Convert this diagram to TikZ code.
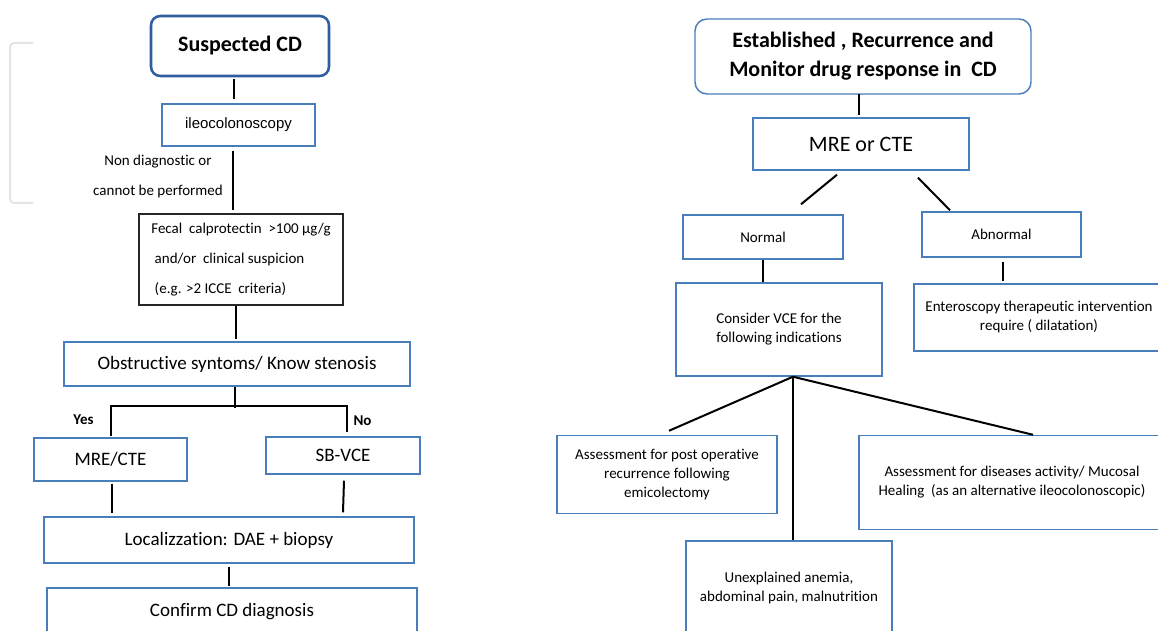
\documentclass[tikz,border=0pt]{standalone}
\usepackage{fontspec}
\setmainfont{Carlito}[Ligatures={NoCommon}]
\newfontfamily\arialf{Liberation Sans}
\usetikzlibrary{calc}
\definecolor{boxblue}{RGB}{74,126,187}
\definecolor{darkblue}{RGB}{46,94,160}
\definecolor{bracketgray}{RGB}{228,228,228}
\tikzset{
  fsm/.style={font=\fontsize{11.25}{14.25}\selectfont},
  fmd/.style={font=\fontsize{14.25}{17}\selectfont},
  flg/.style={font=\fontsize{16.5}{21.75}\selectfont},
  bbox/.style 2 args={draw=boxblue, line width=1.1pt, inner sep=0pt, align=center,
    minimum width=#1*0.75pt, minimum height=#2*0.75pt},
  kbox/.style 2 args={draw=black!85, line width=1.1pt, inner sep=0pt, align=left,
    minimum width=#1*0.75pt, minimum height=#2*0.75pt},
  startbox/.style 2 args={draw=darkblue, line width=1.9pt, rounded corners=7pt, inner sep=0pt,
    align=center, minimum width=#1*0.75pt, minimum height=#2*0.75pt},
  topbox/.style 2 args={draw=boxblue, line width=1.1pt, rounded corners=9pt, inner sep=0pt,
    align=center, minimum width=#1*0.75pt, minimum height=#2*0.75pt},
  lbl/.style={inner sep=0pt, align=center},
  conn/.style={draw=black, line width=1.5pt},
}
\begin{document}
\begin{tikzpicture}[x=0.75pt,y=-0.75pt]
\fill[white] (0,0) rectangle (1158,631);
\useasboundingbox (0,0) rectangle (1158,631);

% light gray bracket at the left edge
\draw[bracketgray, line width=1.5pt, rounded corners=3pt] (33,43) -- (10,43) -- (10,203) -- (33,203);

% ---------------- left flow ----------------
\node[startbox={178}{60}, font=\fontsize{16.5}{21.75}\selectfont\bfseries] (susp) at (240,46) {Suspected CD};
\node[bbox={153}{42}, font=\arialf\fontsize{11.25}{14.25}\selectfont] (ileo) at (238.5,125) {ileocolonoscopy};
\node[lbl, font=\fontsize{11.25}{22.5}\selectfont] (nondiag) at (158,177) {Non diagnostic or\\cannot be performed};
\node[kbox={204}{91}, font=\fontsize{11.25}{22.5}\selectfont] (fecal) at (241,259.5)
  {Fecal\ \ calprotectin\ \ >100 µg/g\\ \ and/or\ \ clinical suspicion\\ \ (e.g. >2 ICCE\ \ criteria)};
\node[bbox={346}{44}, fmd] (obst) at (237,364) {Obstructive syntoms/ Know stenosis};
\node[bbox={153}{43}, fmd] (mre) at (110.5,459.5) {MRE/CTE};
\node[bbox={154}{37}, fmd] (sbvce) at (343,455.5) {SB-VCE};
\node[lbl, font=\fontsize{11.25}{14.25}\selectfont\bfseries] (yes) at (83.5,420) {Yes};
\node[lbl, font=\fontsize{11.25}{14.25}\selectfont\bfseries] (no) at (362.5,421) {No};
\node[bbox={370}{46}, fmd] (local) at (229,540) {Localizzation: DAE + biopsy};
\node[bbox={370}{48}, fmd] (confirm) at (232,612) {Confirm CD diagnosis};

\draw[conn] ($(susp.south)+(-6,2)$) -- ($(ileo.north)+(-4.5,-4)$);
\draw[conn] ($(ileo.south)+(-5.5,4)$) -- ($(fecal.north)+(-8,-3)$);
\draw[conn] ($(fecal.south)+(-5,0)$) -- ($(obst.north)+(-1,-2)$);
\draw[conn] ($(obst.south)+(-2,0)$) -- ($(obst.south)+(-2,21)$);
\draw[conn] ($(mre.north)+(0.5,-1)$) -- ($(mre.north)+(0.5,-31)$) -| ($(sbvce.north)+(4,-4)$);
\draw[conn] ($(mre.south)+(1.5,2)$) -- ($(local.north)+(-117,-3)$);
\draw[conn] ($(sbvce.south)+(1,6)$) -- ($(local.north)+(114,-4)$);
\draw[conn] ($(local.south)+(0,3)$) -- ($(confirm.north)+(-3,-1)$);

% ---------------- right flow ----------------
\node[topbox={336}{75}, font=\fontsize{16.5}{21.75}\selectfont\bfseries] (estab) at (863,56.5)
  {Established , Recurrence and\\Monitor drug response in\ \ CD};
\node[bbox={216}{52}, flg] (mreor) at (861,144) {MRE or CTE};
\node[bbox={160}{44}, fsm] (normal) at (763,237) {Normal};
\node[bbox={159}{45}, fsm] (abnormal) at (1001.5,234.5) {Abnormal};
\node[bbox={206}{93}, fsm] (consider) at (779,329.5) {Consider VCE for the\\following indications};
\node[bbox={250}{67}, fsm] (entero) at (1039,317.5) {Enteroscopy therapeutic intervention\\require ( dilatation)};
\node[bbox={220}{78}, fsm] (asspost) at (667,474.5) {Assessment for post operative\\recurrence following\\emicolectomy};
\node[bbox={306}{94}, fsm] (assdis) at (1012,482.5) {Assessment for diseases activity/ Mucosal\\Healing\ \ (as an alternative ileocolonoscopic)};
\node[bbox={206}{93}, fsm] (unexp) at (789,587.5) {Unexplained anemia,\\abdominal pain, malnutrition};

\coordinate (fan) at ($(consider.south)+(14,0)$);
\draw[conn] ($(estab.south)+(-4,-1)$) -- ($(mreor.north)+(-2,-2)$);
\draw[conn] ($(mreor.south)+(-24,4)$) -- ($(normal.north)+(38,-10)$);
\draw[conn] ($(mreor.south)+(57,7)$) -- ($(abnormal.north)+(-51.5,-1)$);
\draw[conn] (normal.south) -- ($(consider.north)+(-16,0)$);
\draw[conn] ($(abnormal.south)+(1.5,4)$) -- ($(entero.north)+(-36,-2)$);
\draw[conn] (fan) -- ($(asspost.north)+(2,-4)$);
\draw[conn] (fan) -- ($(unexp.north)+(4,0)$);
\draw[conn] (fan) -- ($(assdis.north)+(21,0)$);
\end{tikzpicture}
\end{document}
